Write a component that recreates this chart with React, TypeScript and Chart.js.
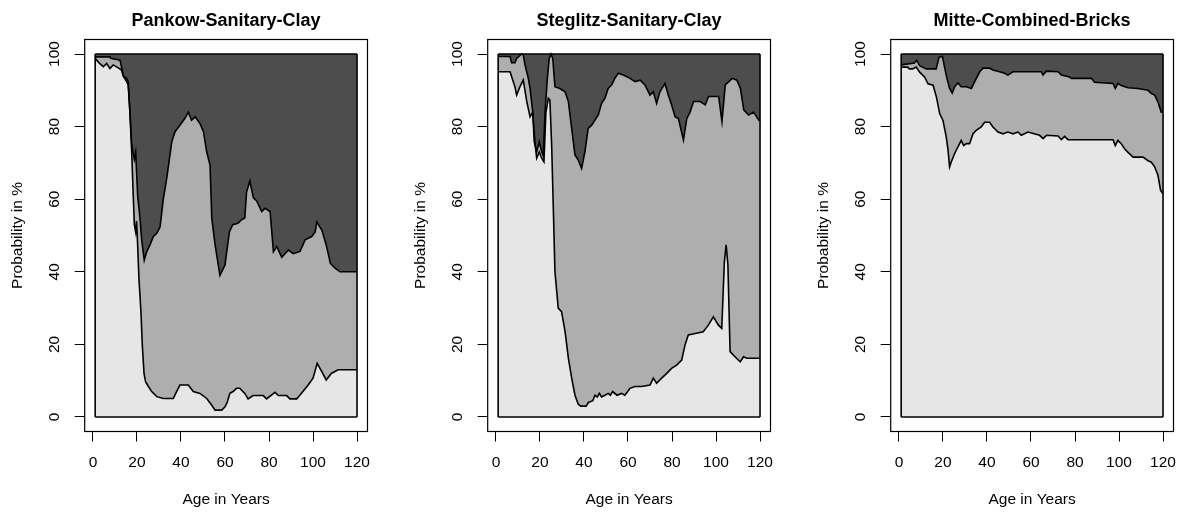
import React, { useEffect, useRef } from "react";
import { Chart, registerables } from "chart.js";

Chart.register(...registerables);

// ---------- axis / range data ----------
const xTickValues = [0, 20, 40, 60, 80, 100, 120];
const yTickValues = [0, 20, 40, 60, 80, 100];
const ageRange = [1, 120];
const percentRange = [0, 100];

const panelTitles = ["Pankow-Sanitary-Clay", "Steglitz-Sanitary-Clay", "Mitte-Combined-Bricks"];
const xAxisTitle = "Age in Years";
const yAxisTitle = "Probability in %";

// ---------- Pankow: cumulative boundaries (light top, mid top) ----------
const pankowLowerAges = [1, 3, 4.7, 6.2, 7.7, 9.2, 11.5, 13, 13.8, 15.3, 16, 16.8, 17.6, 18.3, 18.8, 19.4, 19.8, 20.3, 20.9, 21.8, 22.4, 23.2, 23.9, 25.2, 26.7, 29, 32, 36.5, 38, 39.5, 43.3, 45.6, 48.6, 51.7, 53.9, 55.5, 58.5, 60, 61, 62.2, 63.7, 65.2, 66.7, 69, 70.5, 72.8, 77.4, 78.9, 82.7, 84.2, 88, 89.5, 92.6, 94, 97.8, 100, 101.9, 103.8, 106, 108.3, 111.4, 120];
const pankowLower = [98.8, 97.4, 96.5, 97.4, 96, 97, 96.2, 95.6, 93.8, 92.4, 91.5, 84, 73, 61, 53, 51, 54, 47.4, 38, 29, 20, 12, 9.7, 8.4, 7, 5.6, 5.1, 5.1, 7, 8.8, 8.8, 7, 6.5, 5.1, 3.3, 1.9, 1.9, 2.8, 4, 6.5, 7, 7.9, 7.9, 6.5, 5, 5.9, 5.9, 5, 6.8, 5.9, 5.9, 5, 5, 6, 8.8, 10.7, 14.8, 12.7, 10.2, 12, 13, 13];
const pankowUpperAges = [1, 7.7, 8, 12.3, 13.8, 15.3, 16, 16.8, 17.6, 18.8, 19.4, 20.3, 21.4, 22.1, 23.3, 24.4, 25.9, 27.4, 29, 30.5, 32, 33.5, 35.8, 37.3, 39.5, 41.8, 43.3, 44.8, 46.4, 48.6, 50.2, 51.7, 53.2, 54, 55.5, 57.7, 60, 62, 63.5, 65.9, 67.4, 69, 69.8, 71.3, 72.9, 74.4, 76.7, 78.2, 80.5, 82, 83.5, 85.8, 88.8, 91, 94.1, 96.4, 99.4, 101, 101.7, 104, 106, 107.9, 110, 112.3, 120];
const pankowUpper = [99.2, 99.2, 98.8, 98.3, 94, 93.3, 92.4, 84, 75, 71, 73, 61, 54.6, 49, 43.2, 45.5, 47.4, 49.7, 50.6, 52.4, 60.2, 65.7, 75.8, 78.6, 80.4, 82.3, 84, 81.8, 82.7, 80.9, 78.6, 73, 69.4, 54.7, 47.4, 39, 41.9, 51, 53, 53.4, 54.3, 54.8, 62, 65, 60.4, 59.5, 56.6, 57.5, 56.6, 45.5, 47, 44, 46, 45, 45.6, 48.8, 49.7, 51, 53.7, 51.5, 47.4, 42.3, 41, 40, 40];

// ---------- Steglitz ----------
const steglitzLowerAges = [1, 6.4, 7.1, 8.6, 9.4, 10.9, 12.4, 14, 15.5, 16.7, 17.7, 18.5, 19.7, 20.8, 21.8, 22.7, 23.8, 24.5, 25.3, 26.1, 26.8, 28.3, 29.8, 31.4, 32.9, 34.4, 35.9, 37.4, 38.5, 41, 42, 44, 45, 46, 47, 48, 49.5, 51, 52, 53, 55, 57, 58.6, 60.9, 63.2, 66.2, 70, 71.5, 73, 75.3, 77.6, 79.8, 82.1, 84.4, 85.9, 87.4, 90.5, 94.2, 96.5, 98.8, 101.1, 102.6, 103.8, 104.6, 105.4, 106.4, 108.6, 111, 112.5, 114, 120];
const steglitzLower = [95.1, 95.1, 93.8, 91, 88.7, 91, 92.8, 86.9, 82.7, 84, 75.8, 71.3, 73, 71.3, 70.3, 84, 87.8, 87.3, 75, 56.6, 40, 30, 29, 23.5, 16.2, 10.7, 6, 3.5, 3, 3, 4, 4.5, 6, 5.5, 6.5, 5.5, 6, 6.5, 6, 7, 6, 6.5, 6, 7.9, 8.4, 8.4, 8.8, 10.7, 9.3, 10.7, 12, 13.4, 14.3, 15.7, 19.8, 22.6, 23, 23.5, 25.3, 27.6, 25.3, 24.4, 42.8, 47.4, 41.9, 18, 16.6, 15.2, 16.6, 16.2, 16.2];
const steglitzUpperAges = [1, 6.4, 7.1, 8.6, 9.4, 11.7, 12.4, 13.2, 14.7, 15.5, 16.7, 17.4, 18.5, 19.7, 20.8, 21.5, 22.3, 23.3, 24.2, 25, 25.8, 26.8, 29, 31.4, 32.9, 34.4, 35.9, 37.4, 38.9, 40.4, 41.9, 43.5, 45, 46.5, 48, 49.5, 51, 52.6, 54, 55.6, 57.9, 60.9, 63.2, 65.5, 67.7, 70, 71.5, 73, 74.5, 76.8, 78.3, 79.8, 81.4, 82.9, 85.2, 86.7, 88.2, 89.8, 92.8, 95.1, 96.6, 101.2, 102.7, 104.2, 105.8, 107.3, 109.5, 111.1, 112.6, 114.8, 117.1, 119.4, 120];
const steglitzUpper = [99.3, 99.3, 97.6, 97.6, 98.8, 100, 99.8, 97, 93.3, 90.5, 84, 75.8, 73, 75.8, 73, 72, 84, 93, 98.8, 100, 98.8, 91, 90.5, 89.6, 86.9, 79.5, 72.2, 70.8, 68.5, 73, 79.5, 80.4, 81.8, 83.2, 86.4, 87.8, 90.5, 91.5, 93.3, 94.7, 94.2, 93.3, 92.4, 92.8, 91.5, 88.7, 89.6, 86.4, 89.6, 91.9, 88.7, 86, 82.7, 82.2, 76.3, 82.2, 84, 86.9, 86.9, 86, 88.3, 88.3, 81.4, 91.5, 92.4, 93.3, 92.8, 90.5, 84.6, 83.2, 84, 81.8, 81.5];

// ---------- Mitte ----------
const mitteLowerAges = [1, 3.9, 4.7, 6.2, 7.8, 9.4, 11.7, 13.2, 15.5, 17, 18.5, 20, 21.5, 22.3, 23, 23.8, 25.3, 26.8, 28.3, 29.4, 30.6, 32.1, 33.6, 35.1, 37.4, 38.9, 41.2, 42.7, 45, 47.3, 49.5, 51.8, 54.1, 55.6, 58.6, 63.9, 65.5, 67, 72.3, 73.8, 75.3, 76.8, 97.3, 98.3, 99.5, 101, 102.5, 104.1, 106.4, 110.9, 113.2, 114.7, 116.2, 117.7, 118.9, 120];
const mitteLower = [96.4, 96.4, 95.9, 95.9, 96.4, 95, 93.6, 91.8, 91.4, 88.2, 83.6, 81.7, 77.1, 73.5, 68.9, 70.3, 72.6, 74.4, 76.2, 74.8, 75.3, 75.3, 78, 79, 79.9, 81.2, 81.2, 79.9, 78.5, 78, 78.5, 78, 78.5, 77.6, 78.5, 77.6, 76.7, 77.6, 77.4, 76.4, 77.3, 76.4, 76.4, 74.8, 76.2, 75.3, 73.9, 72.9, 71.6, 71.6, 70.6, 70.2, 68.9, 66.6, 62.4, 61.5];
const mitteUpperAges = [1, 7, 8, 9.4, 12.4, 16.9, 18.2, 19.7, 20.8, 21.8, 23, 24.2, 25.3, 26.8, 28.3, 30.6, 32.9, 34.4, 36.7, 38.2, 41.2, 42.7, 45.7, 48, 49.5, 51.8, 64.7, 65.5, 67, 72.3, 73.8, 77.5, 78.3, 87.4, 88.9, 97.3, 98.3, 99.5, 101, 104.1, 108.6, 113.2, 114.7, 116.2, 117.7, 119.2, 120];
const mitteUpper = [97, 97.5, 98.3, 96.8, 95.9, 95.9, 99.1, 99.4, 96.1, 93.3, 90.5, 89.2, 91, 92, 91, 91, 90.5, 92.4, 95.1, 96.1, 96.1, 95.6, 95.1, 94.7, 94.2, 95.1, 95.1, 94.2, 95.3, 95.1, 94.2, 93.7, 93.3, 93.3, 92.2, 91.9, 90.5, 91.9, 91.3, 90.7, 90.5, 90, 89.1, 88.7, 86.8, 84, 84];

// ---------- styles ----------
const LIGHT = "#E6E6E6";
const MID = "#AEAEAE";
const DARK = "#4D4D4D";
const FONT = "'Liberation Sans', Arial, sans-serif";

const framePlugin = {
  id: "frame",
  afterDraw(chart: any) {
    const { ctx, chartArea } = chart;
    const { left, top, right, bottom } = chartArea;
    ctx.save();
    ctx.strokeStyle = "#000";
    ctx.lineWidth = 1.2;
    ctx.strokeRect(left, top, right - left, bottom - top);
    ctx.restore();
  },
};

type PanelProps = {
  title: string;
  lowerAges: number[];
  lower: number[];
  upperAges: number[];
  upper: number[];
  left: number;
};

function Panel({ title, lowerAges, lower, upperAges, upper, left }: PanelProps) {
  const ref = useRef<HTMLCanvasElement>(null);
  useEffect(() => {
    if (!ref.current) return;
    const toPts = (xs: number[], ys: number[]) => xs.map((x, i) => ({ x, y: ys[i] }));
    const [a0, a1] = ageRange;
    const [p0, p1] = percentRange;
    const line = { borderColor: "#000", borderWidth: 1.6, pointRadius: 0, tension: 0 };
    const xPad = (a1 - a0) * 0.04;
    const yPad = (p1 - p0) * 0.04;
    const chart = new Chart(ref.current, {
      type: "line",
      data: {
        datasets: [
          { data: [{ x: a0, y: p0 }, { x: a1, y: p0 }], fill: false, ...line },
          { data: toPts(lowerAges, lower), fill: "-1", backgroundColor: LIGHT, ...line },
          { data: toPts(upperAges, upper), fill: "-1", backgroundColor: MID, ...line },
          { data: [{ x: a0, y: p1 }, { x: a1, y: p1 }], fill: "-1", backgroundColor: DARK, ...line },
          { data: [{ x: a0, y: p0 }, { x: a0, y: p1 }], fill: false, ...line },
          { data: [{ x: a1, y: p0 }, { x: a1, y: p1 }], fill: false, ...line },
        ],
      } as any,
      options: {
        responsive: false,
        animation: false,
        devicePixelRatio: 1,
        events: [],
        layout: { padding: { left: 0, right: 35.5, top: 0, bottom: 0 } },
        plugins: {
          legend: { display: false },
          tooltip: { enabled: false },
          filler: { drawTime: "beforeDatasetsDraw" },
          title: {
            display: true,
            text: title,
            fullSize: false,
            color: "#000",
            font: { family: FONT, size: 18, weight: "bold" },
            padding: { top: 10.2, bottom: 7.7 },
          },
        },
        scales: {
          x: {
            type: "linear",
            min: a0 - xPad,
            max: a1 + xPad,
            afterBuildTicks: (axis: any) => {
              axis.ticks = xTickValues.map((v) => ({ value: v }));
            },
            afterFit: (axis: any) => {
              axis.height = 80.5;
            },
            ticks: {
              autoSkip: false,
              maxRotation: 0,
              minRotation: 0,
              color: "#000",
              padding: 12,
              font: { family: FONT, size: 15.5 },
            },
            grid: { drawOnChartArea: false, drawTicks: true, tickLength: 10, color: "#000", lineWidth: 1 },
            border: { display: false },
            title: {
              display: true,
              text: xAxisTitle,
              color: "#000",
              font: { family: FONT, size: 15.5 },
              padding: { top: 0, bottom: 2.7 },
            },
          },
          y: {
            type: "linear",
            min: p0 - yPad,
            max: p1 + yPad,
            afterBuildTicks: (axis: any) => {
              axis.ticks = yTickValues.map((v) => ({ value: v }));
            },
            afterFit: (axis: any) => {
              axis.width = 84.7;
            },
            ticks: {
              autoSkip: false,
              minRotation: 90,
              maxRotation: 90,
              crossAlign: "center",
              color: "#000",
              padding: 6.8,
              font: { family: FONT, size: 15.5 },
            },
            grid: { drawOnChartArea: false, drawTicks: true, tickLength: 10, color: "#000", lineWidth: 1 },
            border: { display: false },
            title: {
              display: true,
              text: yAxisTitle,
              color: "#000",
              font: { family: FONT, size: 15.5 },
              padding: { top: 8.7, bottom: 0 },
            },
          },
        },
      } as any,
      plugins: [framePlugin],
    });
    return () => chart.destroy();
  }, []);
  return (
    <div style={{ position: "absolute", left, top: 0, width: 403, height: 512 }}>
      <canvas ref={ref} width={403} height={512} style={{ width: 403, height: 512, display: "block" }} />
    </div>
  );
}

export default function App() {
  return (
    <div
      style={{
        position: "fixed",
        left: 0,
        top: 0,
        width: 1180,
        height: 512,
        overflow: "hidden",
        background: "#fff",
      }}
    >
      <Panel title={panelTitles[0]} lowerAges={pankowLowerAges} lower={pankowLower} upperAges={pankowUpperAges} upper={pankowUpper} left={0} />
      <Panel title={panelTitles[1]} lowerAges={steglitzLowerAges} lower={steglitzLower} upperAges={steglitzUpperAges} upper={steglitzUpper} left={403} />
      <Panel title={panelTitles[2]} lowerAges={mitteLowerAges} lower={mitteLower} upperAges={mitteUpperAges} upper={mitteUpper} left={806} />
    </div>
  );
}
